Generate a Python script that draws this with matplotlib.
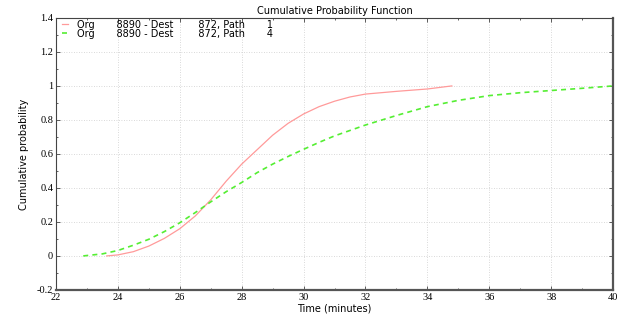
import matplotlib
matplotlib.use("Agg")
import matplotlib.pyplot as plt
from matplotlib.ticker import MultipleLocator

# Data
red_x = [23.64, 24.0, 24.5, 25.0, 25.5, 26.0, 26.5, 27.0, 27.5, 28.0, 28.5, 29.0, 29.5, 30.0, 30.5, 31.0, 31.5, 32.0, 33.0, 34.0, 34.79]
red_y = [0.0, 0.006, 0.025, 0.058, 0.103, 0.16, 0.235, 0.33, 0.44, 0.54, 0.625, 0.71, 0.78, 0.835, 0.878, 0.91, 0.935, 0.952, 0.968, 0.982, 1.0]
green_x = [22.88, 23.5, 24.0, 24.5, 25.0, 25.5, 26.0, 26.5, 27.0, 27.5, 28.0, 28.5, 29.0, 29.5, 30.0, 30.5, 31.0, 32.0, 33.0, 34.0, 35.0, 36.0, 37.0, 38.0, 39.0, 40.0]
green_y = [0.0, 0.012, 0.032, 0.063, 0.098, 0.143, 0.195, 0.255, 0.318, 0.378, 0.432, 0.49, 0.54, 0.585, 0.627, 0.668, 0.706, 0.77, 0.826, 0.878, 0.915, 0.943, 0.96, 0.973, 0.986, 1.0]
labels = ["Org       8890 - Dest        872, Path       1",
          "Org       8890 - Dest        872, Path       4"]
xticks = [22, 24, 26, 28, 30, 32, 34, 36, 38, 40]
yticks = [-0.2, 0, 0.2, 0.4, 0.6, 0.8, 1, 1.2, 1.4]
ytick_labels = ["-0.2", "0", "0.2", "0.4", "0.6", "0.8", "1", "1.2", "1.4"]

fig = plt.figure(figsize=(6.21, 3.2), dpi=100)
ax = fig.add_axes([0.0902, 0.094, 0.897, 0.85])

ax.plot(red_x, red_y, color="#ff9a9a", lw=0.9, label=labels[0])
ax.plot(green_x, green_y, color="#55ee33", lw=1.2, ls=(0, (3, 2.5)), label=labels[1])

ax.set_xlim(22, 40)
ax.set_ylim(-0.2, 1.4)
ax.set_xticks(xticks)
ax.set_xticklabels([str(v) for v in xticks], fontfamily="Liberation Serif", fontsize=7.5)
ax.set_yticks(yticks)
ax.set_yticklabels(ytick_labels, fontfamily="Liberation Serif", fontsize=7.5)
ax.xaxis.set_minor_locator(MultipleLocator(1))
ax.yaxis.set_minor_locator(MultipleLocator(0.1))
ax.tick_params(which="both", direction="in", top=True, right=True, color="#444444")
ax.tick_params(which="major", length=3, width=0.6, pad=2)
ax.tick_params(which="minor", length=1.5, width=0.6)

ax.grid(True, which="major", ls=(0, (1, 2)), color="#cccccc", lw=0.6)
for s in ["left", "top"]:
    ax.spines[s].set_color("#444444")
    ax.spines[s].set_linewidth(0.8)
for s in ["right", "bottom"]:
    ax.spines[s].set_color("#555555")
    ax.spines[s].set_linewidth(1.6)

ax.set_title("Cumulative Probability Function", fontsize=7, pad=3)
ax.set_xlabel("Time (minutes)", fontsize=7, labelpad=1)
ax.set_ylabel("Cumulative probability", fontsize=7, labelpad=6)

ax.legend(loc="upper left", bbox_to_anchor=(0.008, 1.0), frameon=False, fontsize=7,
          handlelength=0.6, handletextpad=0.9, borderaxespad=0.1, labelspacing=-0.1,
          borderpad=0.1)

fig.savefig("out.png", dpi=100)
